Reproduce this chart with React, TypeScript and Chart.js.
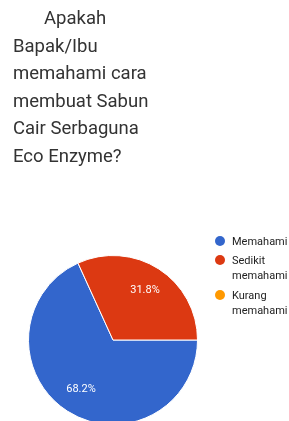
import React, { useEffect, useRef } from "react";
import { Chart, registerables } from "chart.js";

Chart.register(...registerables);

const titleLines = ["Apakah", "Bapak/Ibu", "memahami cara", "membuat Sabun", "Cair Serbaguna", "Eco Enzyme?"];
const categories = ["Memahami", "Sedikit memahami", "Kurang memahami"];
const legendLines = [["Memahami"], ["Sedikit", "memahami"], ["Kurang", "memahami"]];
const values = [68.2, 31.8, 0];
const colors = ["#3366cc", "#dc3912", "#ff9900"];

const pctLabels = {
  id: "pctLabels",
  afterDatasetsDraw(chart: any) {
    const ctx = chart.ctx;
    const meta = chart.getDatasetMeta(0);
    const data = chart.data.datasets[0].data as number[];
    ctx.save();
    ctx.fillStyle = "#ffffff";
    ctx.font = "11px Roboto";
    ctx.textAlign = "center";
    ctx.textBaseline = "middle";
    meta.data.forEach((arc: any, i: number) => {
      const v = data[i];
      if (!v) return;
      const { x, y, startAngle, endAngle, outerRadius } = arc.getProps(["x", "y", "startAngle", "endAngle", "outerRadius"], true);
      const mid = (startAngle + endAngle) / 2;
      const r = outerRadius * 0.7;
      ctx.fillText(v.toFixed(1) + "%", x + Math.cos(mid) * r, y + Math.sin(mid) * r);
    });
    ctx.restore();
  },
};

export default function App() {
  const ref = useRef<HTMLCanvasElement>(null);
  useEffect(() => {
    const chart = new Chart(ref.current!, {
      type: "pie",
      data: {
        labels: categories,
        datasets: [
          {
            data: values,
            backgroundColor: colors,
            borderColor: "#ffffff",
            borderWidth: 1,
          },
        ],
      },
      options: {
        animation: false,
        responsive: false,
        rotation: 90,
        layout: { padding: { left: 28, right: 91, top: 255, bottom: 15 } },
        plugins: { legend: { display: false }, tooltip: { enabled: false } },
      },
      plugins: [pctLabels],
    });
    return () => chart.destroy();
  }, []);

  return (
    <div style={{ position: "fixed", left: 0, top: 0, width: 289, height: 421, overflow: "hidden", background: "#fff" }}>
      <canvas ref={ref} width={289} height={440} style={{ position: "absolute", left: 0, top: 0 }} />
      <div
        style={{
          position: "absolute",
          left: 13,
          top: 5,
          fontFamily: "Roboto",
          fontSize: 18.5,
          lineHeight: "27.6px",
          color: "#333",
          whiteSpace: "nowrap",
        }}
      >
        {titleLines.map((t, i) => (
          <div key={i} style={{ paddingLeft: i === 0 ? 31 : 0 }}>
            {t}
          </div>
        ))}
      </div>
      {legendLines.map((lines, i) => (
        <div
          key={i}
          style={{
            position: "absolute",
            left: 215,
            top: [234, 253, 288][i],
            display: "flex",
            alignItems: "flex-start",
            fontFamily: "Roboto",
            fontSize: 11,
            lineHeight: "15px",
            color: "#222",
            whiteSpace: "nowrap",
          }}
        >
          <span
            style={{
              width: 10,
              height: 10,
              borderRadius: 5,
              background: colors[i],
              marginTop: 2,
              marginRight: 7,
              flex: "none",
            }}
          />
          <div>
            {lines.map((l, j) => (
              <div key={j}>{l}</div>
            ))}
          </div>
        </div>
      ))}
    </div>
  );
}
